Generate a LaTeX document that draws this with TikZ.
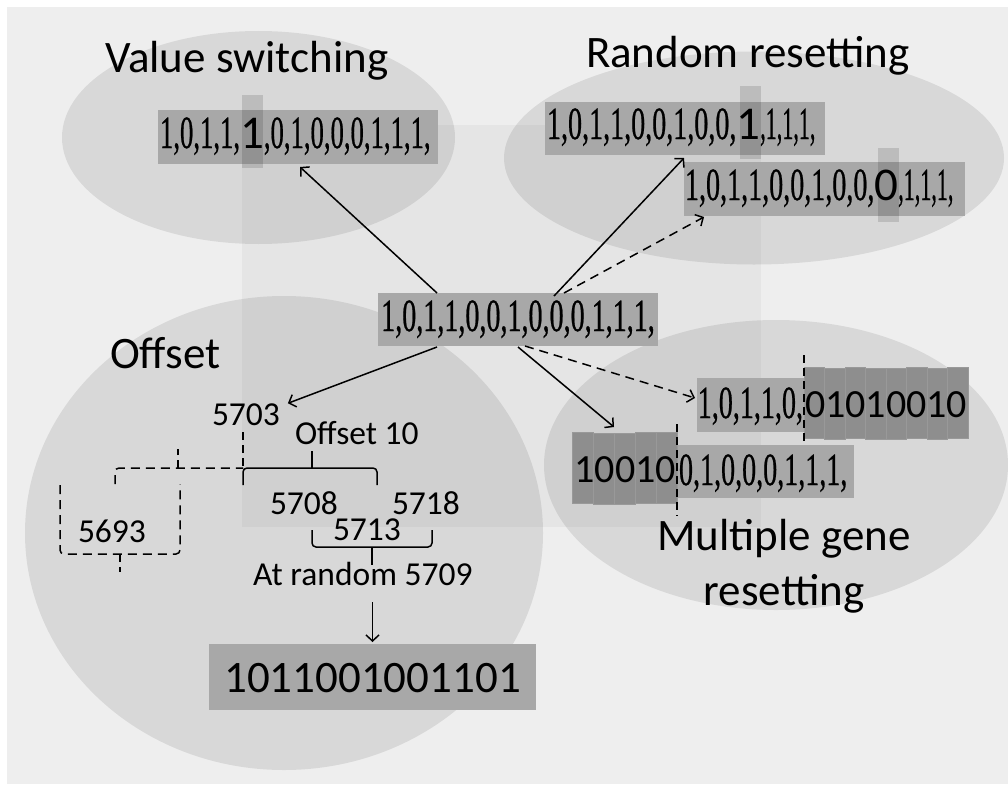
\documentclass[tikz,border=0pt]{standalone}
\usepackage{fontspec}
\usepackage{graphicx}
\setmainfont{Carlito}
\newfontfamily\tnr[FakeBold=0.8]{Liberation Serif}
\usetikzlibrary{arrows.meta,calc}
\definecolor{bggray}{HTML}{EEEEEE}
\definecolor{boxgray}{HTML}{A8A8A8}
\definecolor{cellgray}{HTML}{8E8E8E}
\definecolor{celledge}{HTML}{999999}
% condensed serif chromosome text and large sans digits
\newcommand\cnd[2][0.6]{\scalebox{#1}[1]{\fontsize{46}{46}\selectfont\tnr #2}}
\newcommand\bigd[1]{{\fontsize{47}{47}\selectfont #1}}
\newcommand\gened[1]{{\fontsize{40}{40}\selectfont #1}}

\begin{document}
\begin{tikzpicture}[x=1pt,y=-1pt,
  every node/.style={inner sep=0pt, outer sep=0pt},
  title/.style={font=\fontsize{45}{55}\selectfont, anchor=base west},
  lbl/.style={font=\fontsize{33.5}{34}\selectfont, anchor=base west},
  region/.style={fill=black, fill opacity=0.09},
  strbox/.style={fill=boxgray},
  band/.style={fill=black, fill opacity=0.13},
  cell/.style={fill=cellgray, draw=celledge, line width=0.4pt},
  link/.style={line width=1.5pt, -{Straight Barb[length=6pt,width=13pt]}},
  dlink/.style={link, dash pattern=on 9pt off 6pt},
  brace/.style={line width=1.5pt, rounded corners=4pt},
  dbrace/.style={brace, dash pattern=on 9pt off 6pt},
  cut/.style={line width=1.5pt, dash pattern=on 8pt off 5pt},
]
% canvas
\fill[white] (0,0) rectangle (1008,784);
\fill[bggray] (7,7) rectangle (1008,784);
\useasboundingbox (0,0) rectangle (1008,784);
\fill[black, fill opacity=0.035] (242,125) rectangle (761,527);

% operator regions
\fill[region] (258.5,137.5) ellipse [x radius=196.5pt, y radius=106.5pt];
\fill[region] (754,158) ellipse [x radius=250pt, y radius=106.5pt];
\fill[region] (284,533) ellipse [x radius=259pt, y radius=237pt];
\fill[region] (776,465) ellipse [x radius=232pt, y radius=145pt];

% titles
\node[title] (tvs) at (105,72) {Value switching};
\node[title] (trr) at (586,67) {Random resetting};
\node[title] (toff) at (110,368) {Offset};
\node[title, anchor=base] (tmg1) at (784,550) {Multiple gene};
\node[title, anchor=base] (tmg2) at (784,605) {resetting};

% chromosome boxes
\node[strbox, minimum width=280pt, minimum height=53pt] (orig) at (518,319.5) {};
\node[strbox, minimum width=280pt, minimum height=54pt] (vs) at (298,137) {};
\node[strbox, minimum width=280pt, minimum height=53pt] (rr1) at (685,128.5) {};
\node[strbox, minimum width=281pt, minimum height=54pt] (rr2) at (824.5,189) {};
\node[strbox, minimum width=107pt, minimum height=54pt] (mg1l) at (750.5,405) {};
\node[strbox, minimum width=177pt, minimum height=53pt] (mg2l) at (765.5,471.5) {};
\node[strbox, minimum width=327pt, minimum height=66pt] (res) at (372.5,677) {};

% reset gene blocks
\foreach \i/\d in {0/0,1/1,2/0,3/1,4/1,5/0,6/1,7/0}
  \fill[cell] (804+\i*20.5,367+\d) rectangle (824.5+\i*20.5,438+\d);
\node[minimum width=164pt, minimum height=72pt] (mg1d) at (886,403) {};
\foreach \i/\d in {0/0,1/1,2/1,3/0,4/0}
  \fill[cell] (572+\i*21,432+\d) rectangle (593+\i*21,503+\d);
\node[minimum width=105pt, minimum height=73pt] (mg2d) at (624.5,468.5) {};

% mutated positions
\fill[band] (242,95) rectangle (263,168);
\fill[band] (740,86) rectangle (761,159);
\fill[band] (878,148) rectangle (899,222);

% chromosome texts
\node[anchor=base] (origt) at (518,331) {\cnd[0.61]{1,0,1,1,0,0,1,0,0,0,1,1,1,}};
\node[anchor=base west] (vst) at (160,148)
  {\cnd[0.58]{1,0,1,1,}\bigd{1}\cnd[0.58]{,0,1,0,0,0,1,1,1,}};
\node[anchor=base west] (rr1t) at (547,139)
  {\cnd[0.61]{1,0,1,1,0,0,1,0,0,}\bigd{1}\cnd[0.48]{,1,1,1,}};
\node[anchor=base west] (rr2t) at (685,200)
  {\cnd[0.61]{1,0,1,1,0,0,1,0,0,}\bigd{0}\cnd[0.48]{,1,1,1,}};

\node[anchor=base east] (mg1a) at (803,418) {\cnd[0.61]{1,0,1,1,0,}};
\node[anchor=base west] (mg1b) at (805,417) {\gened{01010010}};
\node[anchor=base east] (mg2a) at (676,482) {\gened{10010}};
\node[anchor=base west] (mg2b) at (679,485) {\cnd[0.61]{0,1,0,0,0,1,1,1,}};

\node[anchor=base, font=\fontsize{45}{45}\selectfont] (rest) at (372.5,692) {1011001001101};

% cut points
\draw[cut] (804,355) -- (804,441);
\draw[cut] (677,424) -- (677,516);

% offset labels
\node[lbl] (n5703) at (212,425) {5703};
\node[lbl] (noff) at (295,444) {Offset 10};
\node[lbl] (n5708) at (270,514) {5708};
\node[lbl] (n5718) at (392,514) {5718};
\node[lbl] (n5713) at (333,540) {5713};
\node[lbl] (natr) at (253,585) {At random 5709};
\node[lbl] (n5693) at (78,542) {5693};

% braces
\draw[brace] (243,485) |- (377,468) -- (377,485);
\draw[line width=1.5pt] (312,468) -- (312,451);
\draw[brace] (312,530) |- (432,547) -- (432,530);
\draw[line width=1.5pt] (372,547) -- (372,565);

% shifted (negative offset) window
\draw[cut] (243,432) -- (243,468);
\draw[dbrace] (115,484) |- (243,468);
\draw[cut] (178,468) -- (178,449);
\draw[dbrace] (60,485) |- (180,554) -- (180,484);
\draw[cut] (120,554) -- (120,572);

% mutation arrows
\draw[link] ($(orig.north west)+(59,0)$) -- ($(vs.south)+(2,3)$);
\draw[link] ($(orig.north)+(36,3)$) -- ($(rr1.south)+(-1,3)$);
\draw[dlink] ($(orig.north)+(46,0)$) -- ($(rr2.south west)+(20,1)$);
\draw[link] ($(orig.south west)+(59,1)$) -- ($(n5703.north east)+(8,0)$);
\draw[link] ($(orig.south)+(0,1)$) -- ($(mg2d.north)+(-10.5,-5)$);
\draw[dlink] ($(orig.south)+(7,0)$) -- ($(mg1l.west)+(-2,-7)$);
\draw[link] ($(res.north)+(0,-42)$) -- ($(res.north)+(0,-2)$);
\end{tikzpicture}
\end{document}
